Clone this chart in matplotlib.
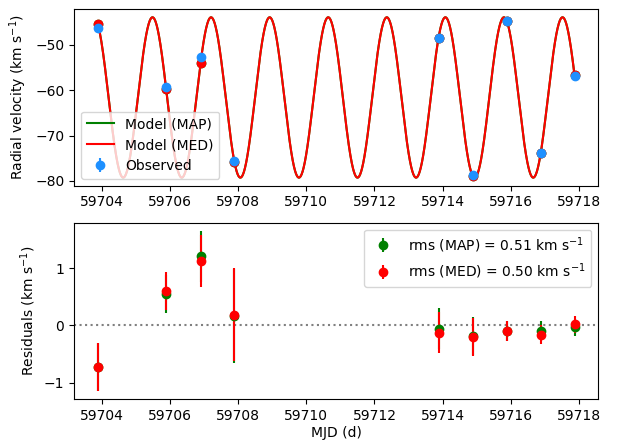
import matplotlib
matplotlib.use("Agg")
import matplotlib.pyplot as plt
import numpy as np

# observations
mjd = np.array([59703.885, 59705.89, 59706.90, 59707.89, 59713.88,
                59714.88, 59715.88, 59716.88, 59717.87])
rv_obs = np.array([-46.2, -59.3, -52.6, -75.6, -48.5, -78.8, -44.8, -73.9, -56.8])
rv_err = np.array([0.42, 0.33, 0.45, 0.82, 0.36, 0.33, 0.18, 0.17, 0.15])

# residuals (observed - model)
res_map = np.array([-0.73, 0.55, 1.21, 0.17, -0.06, -0.19, -0.10, -0.09, -0.03])
res_med = np.array([-0.73, 0.60, 1.13, 0.19, -0.13, -0.20, -0.10, -0.16, 0.02])
rms_map = 0.51
rms_med = 0.50

# circular orbit model parameters: period, semi-amplitude, systemic velocity, time of max
pars_map = dict(P=1.7185, K=17.67, gamma=-61.61, t0=59705.488)
pars_med = dict(P=1.7185, K=17.66, gamma=-61.61, t0=59705.488)


def rv_model(t, P, K, gamma, t0):
    return gamma + K * np.cos(2 * np.pi * (t - t0) / P)


tt = np.linspace(mjd[0], mjd[-1], 2000)

fig = plt.figure(figsize=(6.22, 4.41), dpi=100)
ax1 = fig.add_axes([0.119, 0.579, 0.843, 0.400])
ax2 = fig.add_axes([0.119, 0.095, 0.843, 0.400], sharex=ax1)

ax1.plot(tt, rv_model(tt, **pars_map), color='green', lw=1.5, label='Model (MAP)')
ax1.plot(tt, rv_model(tt, **pars_med), color='red', lw=1.5, label='Model (MED)')
ax1.plot(mjd, rv_model(mjd, **pars_map), 'o', color='green', ms=6)
ax1.plot(mjd, rv_model(mjd, **pars_med), 'o', color='red', ms=6)
ax1.errorbar(mjd, rv_obs, yerr=rv_err, fmt='o', color='dodgerblue', ms=6,
             elinewidth=1.5, label='Observed', zorder=5)
ax1.set_ylabel('Radial velocity (km s$^{-1}$)')
ax1.legend(loc='lower left')
ax1.tick_params(labelbottom=True)

ax2.axhline(0, color='gray', ls=':', lw=1.5)
ax2.errorbar(mjd, res_map, yerr=rv_err, fmt='o', color='green', ms=6, elinewidth=1.5,
             label='rms (MAP) = %.2f km s$^{-1}$' % rms_map)
ax2.errorbar(mjd, res_med, yerr=rv_err, fmt='o', color='red', ms=6, elinewidth=1.5,
             label='rms (MED) = %.2f km s$^{-1}$' % rms_med)
ax2.set_ylabel('Residuals (km s$^{-1}$)')
ax2.set_xlabel('MJD (d)', labelpad=2)
ax2.legend(loc='upper right')

fig.savefig('out.png', dpi=100)
